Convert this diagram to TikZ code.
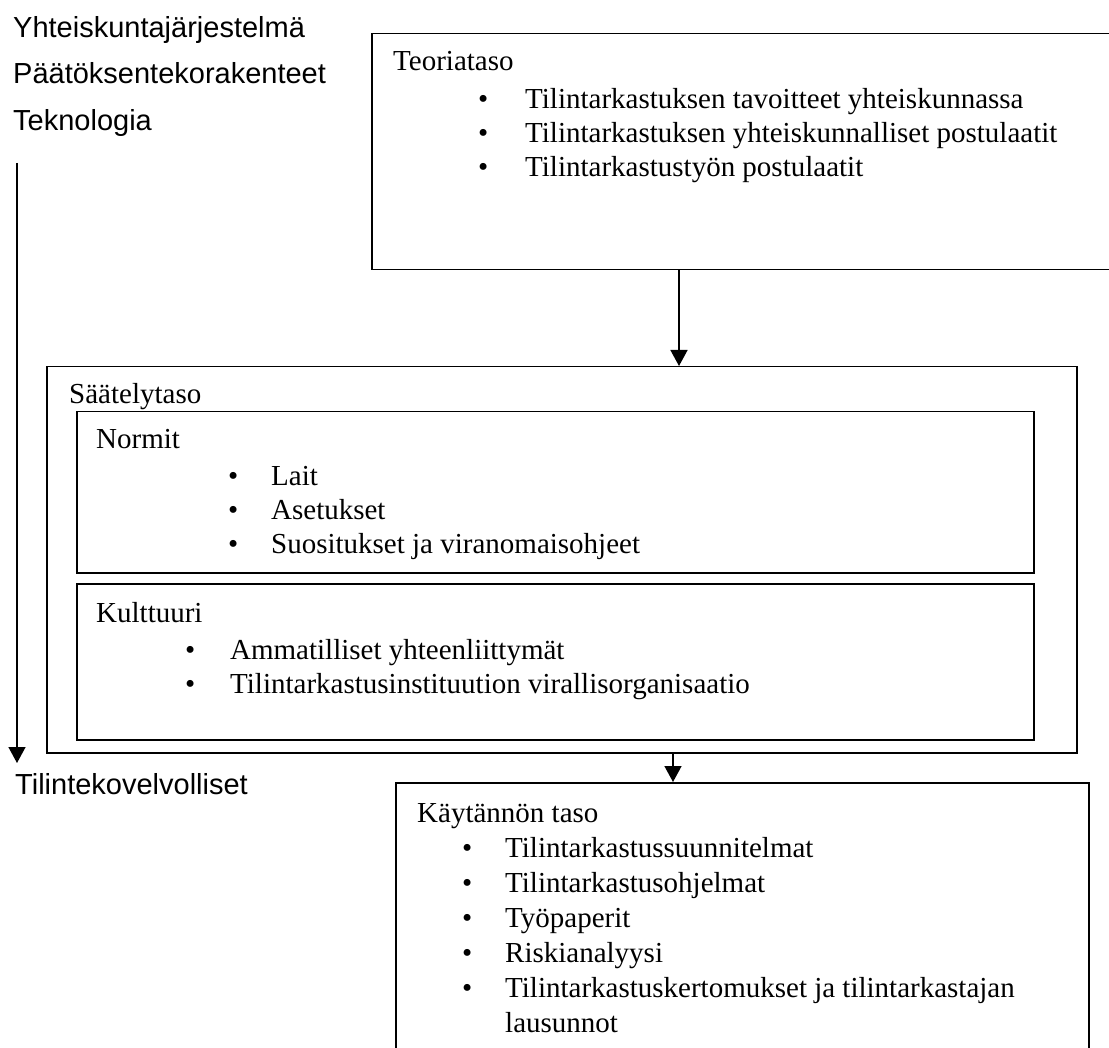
\documentclass[tikz,border=0pt]{standalone}
\usepackage{fontspec}
\setmainfont{Liberation Serif}
\newfontfamily\labelfont{Liberation Sans}
\usetikzlibrary{arrows.meta,positioning,calc}

\newcommand{\bul}[2][42pt]{\makebox[#1][l]{\textbullet}#2}

\begin{document}
\begin{tikzpicture}[x=1pt,y=-1pt]
\tikzset{box/.style={draw, line width=1.5pt, inner sep=0pt, anchor=north west}}
\tikzset{title/.style={anchor=mid west, inner sep=0pt, font=\fontsize{29}{34}\selectfont}}
\tikzset{item/.style={title}}
\tikzset{side/.style={anchor=mid west, inner sep=0pt, font=\labelfont\fontsize{29}{34}\selectfont}}
\tikzset{arr/.style={line width=1.5pt, -{Triangle[length=16pt,width=17pt]}}}
\useasboundingbox (0,0) rectangle (1109,1048);
\clip (0,0) rectangle (1109,1048);
\fill[white] (0,0) rectangle (1109,1048);

% left side
\node[side] (yht) at (13,35) {Yhteiskuntajärjestelmä};
\node[side] (paat) at (13,81) {Päätöksentekorakenteet};
\node[side] (tek) at (13,128) {Teknologia};
\node[side] (tili) at (15,792) {Tilintekovelvolliset};
\coordinate (vtop) at (17,163);
\coordinate (vbot) at (17,763);
\draw[arr] (vtop) -- (vbot);

% teoriataso
\node[box, minimum width=789pt, minimum height=236pt] (teoria) at (371,33) {};
\node[title] (teot) at (393,68) {Teoriataso};
\foreach \t [count=\i] in {Tilintarkastuksen tavoitteet yhteiskunnassa,
  Tilintarkastuksen yhteiskunnalliset postulaatit,
  Tilintarkastustyön postulaatit}
  \node[item] (teo\i) at (478,72+34*\i) {\bul[47pt]{\t}};

% saatelytaso
\node[box, minimum width=1030pt, minimum height=386pt] (saate) at (46,366) {};
\node[title] (saatt) at (69,401) {Säätelytaso};
\node[box, minimum width=957pt, minimum height=161pt] (normit) at (76,411) {};
\node[title] (normt) at (96,446) {Normit};
\foreach \t [count=\i] in {Lait, Asetukset, Suositukset ja viranomaisohjeet}
  \node[item] (nor\i) at (228,449+34*\i) {\bul[43pt]{\t}};
\node[box, minimum width=957pt, minimum height=156pt] (kult) at (76,583) {};
\node[title] (kultt) at (96,620) {Kulttuuri};
\foreach \t [count=\i] in {Ammatilliset yhteenliittymät,
  Tilintarkastusinstituution virallisorganisaatio}
  \node[item] (kul\i) at (185,623+34*\i) {\bul[45pt]{\t}};

% kaytannon taso
\node[box, minimum width=693pt, minimum height=320pt] (kay) at (395,782) {};
\node[title] (kayt) at (417,820) {Käytännön taso};
\foreach \t [count=\i] in {Tilintarkastussuunnitelmat, Tilintarkastusohjelmat,
  Työpaperit, Riskianalyysi, Tilintarkastuskertomukset ja tilintarkastajan}
  \node[item] (kay\i) at (462,820+35*\i) {\bul[43pt]{\t}};
\node[item] (kay6) at (505,1030) {lausunnot};

% arrows between levels
\coordinate (ax1) at (679,0);
\coordinate (ax2) at (673,0);
\draw[arr] (teoria.south -| ax1) -- (saate.north -| ax1);
\draw[arr] (saate.south -| ax2) -- (kay.north -| ax2);
\end{tikzpicture}
\end{document}
